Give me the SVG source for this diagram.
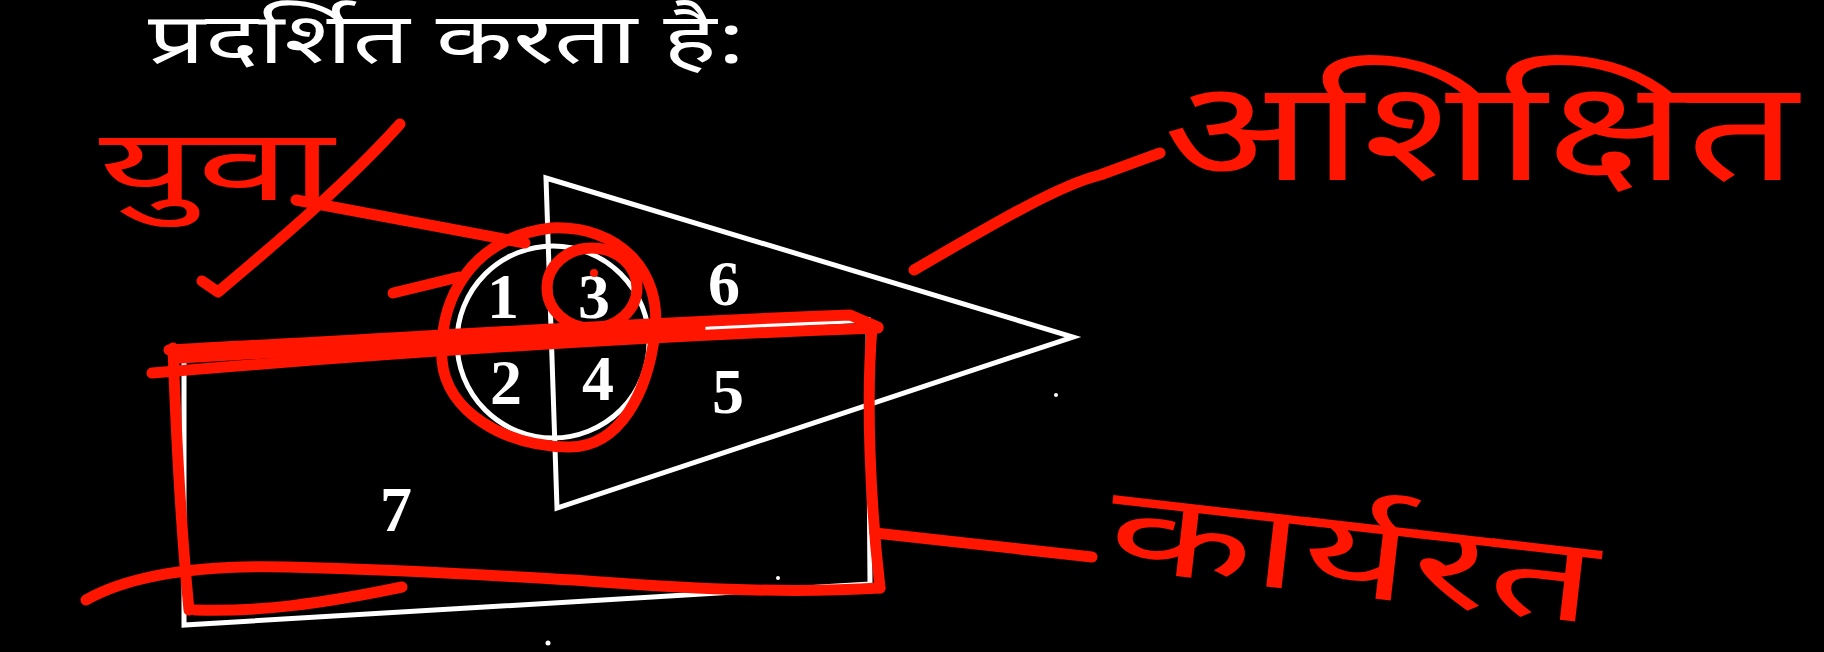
<svg xmlns="http://www.w3.org/2000/svg" width="1824" height="652" viewBox="0 0 1824 652">
<style>
.wl{fill:none;stroke:#ffffff;stroke-width:5;stroke-linejoin:miter}
.rd{fill:none;stroke:#ff1500;stroke-width:11;stroke-linecap:round;stroke-linejoin:round}
.num{font-family:"Liberation Serif","DejaVu Serif",serif;font-weight:bold;font-size:64px;fill:#ffffff;text-anchor:middle}
.head{font-family:"Noto Sans Devanagari","Noto Sans","Lohit Devanagari","FreeSans",sans-serif;font-size:70px;fill:#ffffff}
.hw{font-family:"Noto Sans Devanagari","Noto Sans","Lohit Devanagari","FreeSans",sans-serif;fill:#ff1500}
</style>
<rect width="1824" height="652" fill="#000000"/>
<g id="heading">
<text class="head" x="148" y="63" textLength="598" lengthAdjust="spacingAndGlyphs">प्रदर्शित करता है:</text>
</g>
<g id="triangle">
<polygon class="wl" points="546,178 557,508 1073,337"/>
</g>
<g id="rectangle">
<polygon class="wl" points="184,357 868,320 870,584 184,625"/>
</g>
<g id="circle">
<circle class="wl" cx="553" cy="342" r="96"/>
</g>
<g id="numbers">
<text class="num" x="503" y="318">1</text>
<text class="num" x="594" y="318">3</text>
<text class="num" x="724" y="305">6</text>
<text class="num" x="506" y="404">2</text>
<text class="num" x="598" y="400">4</text>
<text class="num" x="728" y="413">5</text>
<text class="num" x="396" y="531">7</text>
</g>
<g id="specks" fill="#ffffff">
<circle cx="1056" cy="395" r="2"/>
<circle cx="778" cy="578" r="2"/>
<circle cx="548" cy="643" r="2.5"/>
</g>
<g id="red-marks">
<path class="rd" d="M551 228 C620 225 662 272 655 332 C648 392 620 448 568 447 C505 446 446 412 442 360 C439 300 470 238 551 228 Z"/>
<ellipse class="rd" cx="592" cy="288" rx="45" ry="40"/>
<circle cx="594" cy="273" r="4" fill="#ff1500"/>
<path class="rd" d="M169 350 C400 338 650 322 850 315 L878 327"/>
<path class="rd" d="M152 373 C400 352 650 336 878 328"/>
<path class="rd" d="M180 358 L700 328" stroke-width="9"/>
<path class="rd" d="M173 348 C176 430 180 520 189 610"/>
<path class="rd" d="M872 327 C866 400 870 500 880 588"/>
<path class="rd" d="M86 600 C130 575 200 565 287 567 C420 570 480 575 574 580 C680 588 780 594 880 588"/>
<path class="rd" d="M195 610 C260 612 320 604 402 587"/>
<path class="rd" d="M400 124 C350 180 280 240 218 292 L202 281"/>
<path class="rd" d="M393 293 L459 277"/>
</g>
<g id="connectors">
<path class="rd" d="M296 200 L525 243"/>
<path class="rd" d="M914 270 C1000 220 1060 185 1100 175 L1160 153"/>
<path class="rd" d="M875 533 L1092 557"/>
</g>
<g id="label-yuva">
<text class="hw" x="99" y="200" font-size="100" textLength="235" lengthAdjust="spacingAndGlyphs">युवा</text>
</g>
<g id="label-ashikshit">
<text class="hw" x="1163" y="180" font-size="140" textLength="635" lengthAdjust="spacingAndGlyphs">अशिक्षित</text>
</g>
<g id="label-karyarat">
<text class="hw" x="1105" y="568" font-size="118" textLength="490" lengthAdjust="spacingAndGlyphs" transform="rotate(6.5 1105 568)">कार्यरत</text>
</g>
</svg>
